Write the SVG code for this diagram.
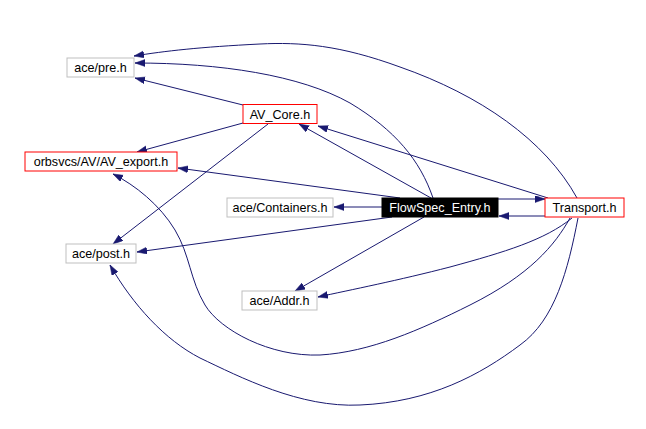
<svg xmlns="http://www.w3.org/2000/svg" width="646" height="429" viewBox="0 0 646 429">
<style>
.n rect{fill:#fff;stroke:#bfbfbf;stroke-width:1}
.n.r rect{stroke:#ff0000}
.n.b rect{fill:#000;stroke:#000}
.n text{font-family:"Liberation Sans",Arial,sans-serif;font-size:12.6px;text-anchor:middle;fill:#000}
.n.b text{fill:#fff}
#edges path{fill:none;stroke:#191970;stroke-width:1;marker-end:url(#ah)}
</style>
<defs>
<marker id="ah" markerUnits="userSpaceOnUse" markerWidth="11" markerHeight="8" refX="10" refY="3.5" orient="auto" viewBox="0 0 11 8">
<path d="M0,0 L10,3.5 L0,7 z" fill="#191970" stroke="#191970" stroke-width="0.5"/>
</marker>
</defs>
<rect width="646" height="429" fill="#fff"/>
<g id="edges">
<path d="M577,198 C545,140 480,95 400,67 C340,45 300,42 260,44 C200,47 165,51 134,56"/>
<path d="M433,198 C420,160 395,130 350,103 C300,75 220,63 135,63"/>
<path d="M243,105 L135,78"/>
<path d="M243,123 L137,152"/>
<path d="M268,124 L113,244"/>
<path d="M431,198 L299,124"/>
<path d="M548,198 L318,126"/>
<path d="M400,198 L178,168"/>
<path d="M382,207 L334,207"/>
<path d="M498,199 L545,199"/>
<path d="M545,216 L499,216"/>
<path d="M392,217 L137,252"/>
<path d="M424,217 L295,291"/>
<path d="M572,218 C545,240 505,252 450,267 C400,280 350,290 318,297"/>
<path d="M570,218 C555,245 530,275 470,305 C420,330 370,352 320,355 C270,357 220,330 205,305 C190,280 190,255 175,230 C160,205 135,185 113,174"/>
<path d="M578,218 C568,270 555,320 520,345 C480,375 430,402 360,405 C300,408 240,377 200,358 C165,340 133,305 110,265"/>
</g>
<g id="pre" class="n"><rect x="67" y="58" width="67" height="19"/><text x="100.5" y="72">ace/pre.h</text></g>
<g id="avcore" class="n r"><rect x="243" y="104.5" width="74" height="19"/><text x="280" y="118.5">AV_Core.h</text></g>
<g id="avexport" class="n r"><rect x="25" y="152" width="152" height="19"/><text x="101" y="166">orbsvcs/AV/AV_export.h</text></g>
<g id="containers" class="n"><rect x="227" y="198" width="106" height="19"/><text x="280" y="212">ace/Containers.h</text></g>
<g id="flowspec" class="n b"><rect x="382" y="198" width="116" height="19"/><text x="440" y="212">FlowSpec_Entry.h</text></g>
<g id="transport" class="n r"><rect x="545" y="198" width="79" height="19"/><text x="584.5" y="212">Transport.h</text></g>
<g id="post" class="n"><rect x="66" y="244" width="70" height="19"/><text x="101" y="258">ace/post.h</text></g>
<g id="addr" class="n"><rect x="242" y="291" width="75" height="19"/><text x="279.5" y="305">ace/Addr.h</text></g>
</svg>
